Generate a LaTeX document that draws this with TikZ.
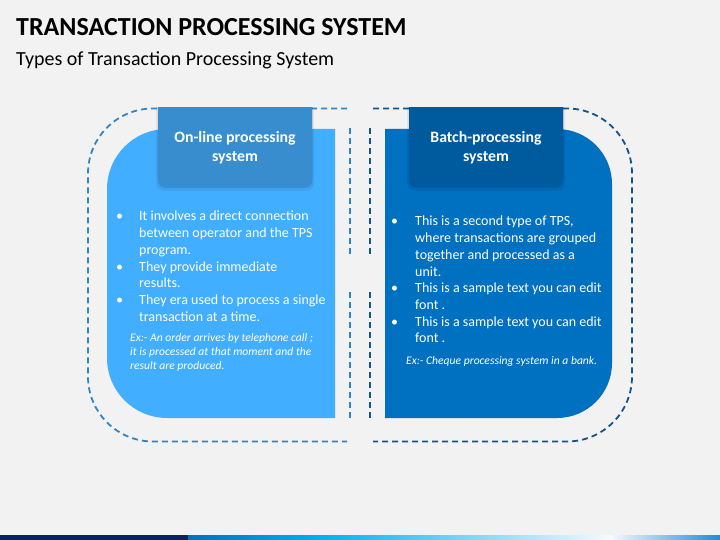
\documentclass[tikz,border=0pt]{standalone}
\usepackage{fontspec}
\setmainfont{Carlito}
\usepackage{array}
\definecolor{bgc}{RGB}{242,242,242}
\definecolor{lboxc}{RGB}{65,174,255}
\definecolor{rboxc}{RGB}{0,112,192}
\definecolor{ltabc}{RGB}{56,141,206}
\definecolor{rtabc}{RGB}{0,90,158}
\definecolor{dashlc}{RGB}{46,134,200}
\definecolor{dashrc}{RGB}{16,84,145}
\definecolor{navyc}{RGB}{10,34,98}
\definecolor{barA}{RGB}{0,112,192}
\definecolor{barB}{RGB}{0,176,240}
\definecolor{barC}{RGB}{245,250,254}
\definecolor{barD}{RGB}{30,140,215}
\pgfdeclarehorizontalshading{barshade}{100bp}{color(0bp)=(barA); color(25bp)=(barA); color(37.4bp)=(barB); color(64.7bp)=(barC); color(75bp)=(barD); color(100bp)=(barD)}
\tikzset{
  dashl/.style={draw=dashlc, line width=1.8bp, dash pattern=on 6bp off 4bp},
  dashr/.style={draw=dashrc, line width=1.8bp, dash pattern=on 6bp off 4bp},
  tabtxt/.style={text=white, inner sep=0pt, align=center, font=\fontsize{15.8bp}{18.8bp}\selectfont\bfseries},
  bodytxt/.style={text=white, inner sep=0pt, anchor=base west, font=\fontsize{14bp}{16.7bp}\selectfont},
  extxt/.style={text=white, inner sep=0pt, anchor=base west, font=\fontsize{11.6bp}{14.2bp}\selectfont\itshape},
  tabshadow/.style={fill=black, opacity=0.12, rounded corners=8bp},
}
\begin{document}
\begin{tikzpicture}[x=1bp,y=-1bp]
\useasboundingbox (0,0) rectangle (720,540);
\fill[bgc] (0,0) rectangle (720,540);

% titles
\node[anchor=base west, inner sep=0pt, font=\fontsize{26bp}{30bp}\selectfont\bfseries] (title) at (16,36) {TRANSACTION PROCESSING SYSTEM};
\node[anchor=base west, inner sep=0pt, font=\fontsize{20bp}{24bp}\selectfont] (subtitle) at (16,66) {Types of Transaction Processing System};

% dashed outlines
\draw[dashl, rounded corners=65bp] (347,108.5) -- (88,108.5) -- (88,441.5) -- (347,441.5);
\draw[dashr, rounded corners=65bp] (373,108.5) -- (632,108.5) -- (632,441.5) -- (373,441.5);
\draw[dashl] (350,128) -- (350,255);
\draw[dashl] (350,292) -- (350,418);
\draw[dashr] (370,128) -- (370,255);
\draw[dashr] (370,292) -- (370,418);

% boxes
\begin{scope}
  \clip (0,0) rectangle (335,540);
  \fill[lboxc, rounded corners=60bp] (107,129) rectangle (420,418);
\end{scope}
\begin{scope}
  \clip (385,0) rectangle (720,540);
  \fill[rboxc, rounded corners=55bp] (300,129) rectangle (612,418);
\end{scope}

% tabs
\begin{scope}
  \clip (0,108) rectangle (720,540);
  \fill[tabshadow, opacity=0.06] (156,95) rectangle (314,191);
  \fill[tabshadow] (157.5,95) rectangle (312.5,188);
  \fill[ltabc, rounded corners=8bp] (158,95) rectangle (312,185);
  \fill[tabshadow, opacity=0.06] (407,95) rectangle (565,191);
  \fill[tabshadow] (408.5,95) rectangle (563.5,188);
  \fill[rtabc, rounded corners=8bp] (409,95) rectangle (563,185);
\end{scope}
\node[tabtxt] (ltab) at (235,147.5) {On-line processing\\system};
\node[tabtxt] (rtab) at (486,147.5) {Batch-processing\\system};

% left body
\node[bodytxt] (lbody) at (116,221) {\begin{tabular}[t]{@{}p{23bp}@{}l@{}}
\textbullet & It involves a direct connection\\
 & between operator and the TPS\\
 & program.\\
\textbullet & They provide immediate\\
 & results.\\
\textbullet & They era used to process a single\\
 & transaction at a time.
\end{tabular}};
\node[extxt] (lex) at (130,341.5) {\begin{tabular}[t]{@{}l@{}}
Ex:- An order arrives by telephone call ;\\
it is processed at that moment and the\\
result are produced.
\end{tabular}};

% right body
\node[bodytxt] (rbody) at (391,226) {\begin{tabular}[t]{@{}p{24bp}@{}l@{}}
\textbullet & This is a second type of TPS,\\
 & where transactions are grouped\\
 & together and processed as a\\
 & unit.\\
\textbullet & This is a sample text you can edit\\
 & font .\\
\textbullet & This is a sample text you can edit\\
 & font .
\end{tabular}};
\node[extxt] (rex) at (406,364.5) {Ex:- Cheque processing system in a bank.};

% bottom bar
\fill[navyc] (0,535) rectangle (188,540);
\shade[shading=barshade] (188,535) rectangle (720,540);
\end{tikzpicture}
\end{document}
